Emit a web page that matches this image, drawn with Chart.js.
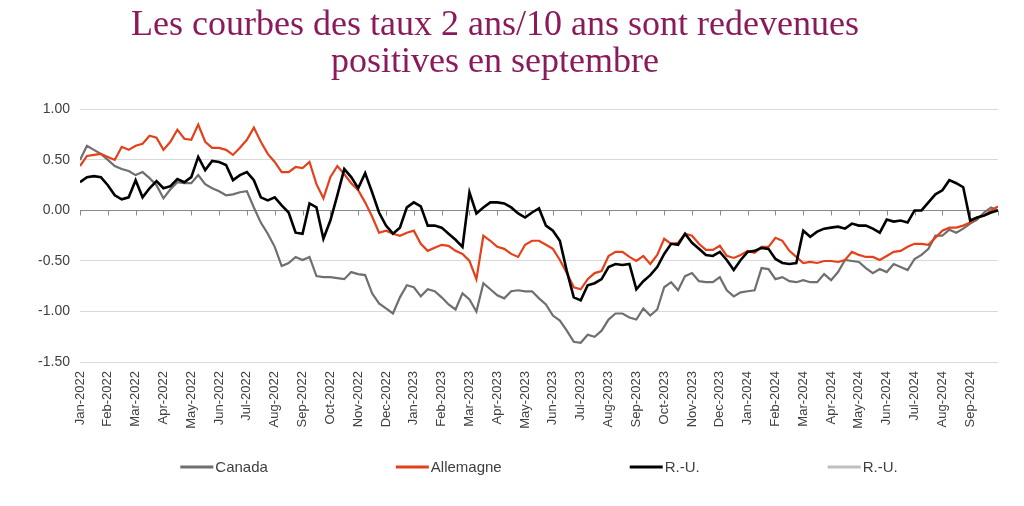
<!DOCTYPE html>
<html lang="fr">
<head>
<meta charset="utf-8">
<title>Les courbes des taux 2 ans/10 ans</title>
<script src="https://cdn.jsdelivr.net/npm/chart.js@4.4.1/dist/chart.umd.min.js"></script>
<style>
  html, body { margin: 0; padding: 0; background: #ffffff; }
  #wrap { position: relative; width: 1024px; height: 506px; }
</style>
</head>
<body>
<div id="wrap"><canvas id="chart"></canvas></div>
<script>
// ---- Data (spread 10 ans - 2 ans, in percentage points), 4 readings per month from Jan-2022 ----
const monthLabels = [
  'Jan-2022','Feb-2022','Mar-2022','Apr-2022','May-2022','Jun-2022','Jul-2022','Aug-2022','Sep-2022','Oct-2022','Nov-2022','Dec-2022',
  'Jan-2023','Feb-2023','Mar-2023','Apr-2023','May-2023','Jun-2023','Jul-2023','Aug-2023','Sep-2023','Oct-2023','Nov-2023','Dec-2023',
  'Jan-2024','Feb-2024','Mar-2024','Apr-2024','May-2024','Jun-2024','Jul-2024','Aug-2024','Sep-2024'
];
const readingsPerMonth = 4;
const yTicks = [1.0, 0.5, 0.0, -0.5, -1.0, -1.5];
const seriesLabels = ['Canada', 'Allemagne', 'R.-U.', 'R.-U.'];

const canada = [
  0.50, 0.64, 0.60, 0.56,   0.50, 0.44, 0.41, 0.39,   0.35, 0.38, 0.32, 0.25,   0.12, 0.21, 0.28, 0.27,
  0.27, 0.35, 0.26, 0.22,   0.19, 0.15, 0.16, 0.18,   0.19, 0.03, -0.12, -0.23, -0.36, -0.55, -0.52, -0.46,
  -0.49, -0.46, -0.65, -0.66, -0.66, -0.67, -0.68, -0.61, -0.63, -0.64, -0.82, -0.92, -0.97, -1.02, -0.86, -0.74,
  -0.76, -0.85, -0.78, -0.80, -0.86, -0.93, -0.98, -0.82, -0.88, -1.00, -0.72, -0.78, -0.84, -0.87, -0.80, -0.79,
  -0.80, -0.80, -0.87, -0.93, -1.04, -1.09, -1.19, -1.30, -1.31, -1.23, -1.25, -1.19, -1.08, -1.02, -1.02, -1.06,
  -1.08, -0.97, -1.04, -0.98, -0.76, -0.71, -0.79, -0.65, -0.62, -0.70, -0.71, -0.71, -0.66, -0.79, -0.85, -0.81,
  -0.80, -0.79, -0.57, -0.58, -0.68, -0.66, -0.70, -0.71, -0.69, -0.71, -0.71, -0.63, -0.69, -0.61, -0.49, -0.50,
  -0.51, -0.57, -0.62, -0.58, -0.61, -0.53, -0.56, -0.59, -0.48, -0.44, -0.38, -0.25, -0.25, -0.19, -0.22, -0.18,
  -0.13, -0.09, -0.02, 0.03,
  0.00
];

const allemagne = [
  0.44, 0.54, 0.55, 0.56,   0.53, 0.50, 0.63, 0.60,   0.64, 0.66, 0.74, 0.72,   0.60, 0.68, 0.80, 0.71,
  0.70, 0.85, 0.68, 0.62,   0.62, 0.60, 0.55, 0.62,   0.70, 0.82, 0.68, 0.56,   0.48, 0.38, 0.38, 0.43,
  0.42, 0.48, 0.26, 0.12,   0.33, 0.44, 0.36, 0.27,   0.20, 0.08, -0.06, -0.22, -0.20, -0.23, -0.25, -0.22,
  -0.20, -0.33, -0.40, -0.37, -0.34, -0.35, -0.40, -0.43, -0.50, -0.68, -0.25, -0.30, -0.36, -0.38, -0.43, -0.46,
  -0.34, -0.30, -0.30, -0.34, -0.38, -0.49, -0.62, -0.76, -0.78, -0.68, -0.62, -0.60, -0.45, -0.41, -0.41, -0.46,
  -0.50, -0.45, -0.53, -0.44, -0.28, -0.33, -0.32, -0.23, -0.25, -0.33, -0.39, -0.39, -0.35, -0.45, -0.47, -0.44,
  -0.40, -0.42, -0.36, -0.36, -0.27, -0.30, -0.40, -0.46, -0.52, -0.51, -0.52, -0.50, -0.50, -0.51, -0.49, -0.41,
  -0.44, -0.46, -0.46, -0.49, -0.45, -0.41, -0.40, -0.36, -0.33, -0.33, -0.34, -0.27, -0.20, -0.17, -0.17, -0.15,
  -0.12, -0.07, -0.05, 0.00,
  0.04
];

const royaumeUni = [
  0.28, 0.33, 0.34, 0.33,   0.25, 0.15, 0.11, 0.13,   0.30, 0.13, 0.22, 0.29,   0.22, 0.24, 0.31, 0.28,
  0.33, 0.53, 0.40, 0.49,   0.48, 0.45, 0.30, 0.35,   0.38, 0.30, 0.13, 0.10,   0.13, 0.05, -0.02, -0.22,
  -0.23, 0.07, 0.03, -0.28, -0.10, 0.15, 0.41, 0.33,  0.22, 0.37, 0.18, -0.02,  -0.15, -0.23, -0.17, 0.03,
  0.08, 0.04, -0.15, -0.15, -0.17, -0.23, -0.29, -0.36, 0.18, -0.03, 0.03, 0.08,  0.08, 0.07, 0.03, -0.03,
  -0.07, -0.02, 0.02, -0.15, -0.20, -0.30, -0.60, -0.86, -0.89, -0.74, -0.72, -0.68, -0.56, -0.53, -0.54, -0.53,
  -0.78, -0.70, -0.64, -0.56, -0.43, -0.33, -0.34, -0.23, -0.32, -0.38, -0.44, -0.45, -0.41, -0.49, -0.59, -0.49,
  -0.41, -0.40, -0.37, -0.38, -0.48, -0.52, -0.53, -0.52, -0.20, -0.26, -0.21, -0.18, -0.17, -0.16, -0.18, -0.13,
  -0.15, -0.15, -0.18, -0.22, -0.09, -0.11, -0.10, -0.12, 0.00, 0.00, 0.08, 0.16,  0.20, 0.30, 0.27, 0.23,
  -0.10, -0.07, -0.05, -0.02,
  0.00
];

const royaumeUni2 = [];

const seriesColors = ['#6f6f6f', '#e4411b', '#000000', '#bfbfbf'];

// ---- helpers ----
function toPoints(values) {
  return values.map((v, i) => ({ x: i / readingsPerMonth, y: v }));
}

const tickMarksOnZero = {
  id: 'tickMarksOnZero',
  beforeDatasetsDraw(chart, args, opts) {
    const { ctx, scales: { x, y } } = chart;
    const y0 = Math.round(y.getPixelForValue(0)) + 0.5;
    ctx.save();
    ctx.strokeStyle = opts.color;
    ctx.lineWidth = 1;
    ctx.beginPath();
    x.ticks.forEach(t => {
      const px = Math.round(x.getPixelForValue(t.value)) + 0.5;
      ctx.moveTo(px, y0);
      ctx.lineTo(px, y0 + opts.length);
    });
    ctx.stroke();
    ctx.restore();
  }
};

const lineLegend = {
  id: 'lineLegend',
  afterDraw(chart, args, opts) {
    const { ctx, chartArea } = chart;
    ctx.save();
    ctx.font = opts.font;
    const items = chart.data.datasets.map(ds => ({
      label: ds.label,
      color: ds.borderColor,
      w: opts.lineLength + opts.textGap + ctx.measureText(ds.label).width
    }));
    const total = items.reduce((s, it) => s + it.w, 0) + opts.itemGap * (items.length - 1);
    let x = (chartArea.left + chartArea.right) / 2 - total / 2;
    const y = opts.y;
    items.forEach(it => {
      ctx.strokeStyle = it.color;
      ctx.lineWidth = opts.lineWidth;
      ctx.beginPath();
      ctx.moveTo(x, y);
      ctx.lineTo(x + opts.lineLength, y);
      ctx.stroke();
      ctx.fillStyle = opts.color;
      ctx.textBaseline = 'middle';
      ctx.textAlign = 'left';
      ctx.fillText(it.label, x + opts.lineLength + opts.textGap, y + 1);
      x += it.w + opts.itemGap;
    });
    ctx.restore();
  }
};

const seriesValues = [canada, allemagne, royaumeUni, royaumeUni2];
const widths = [2.2, 2.2, 2.6, 2.2];
const orders = [3, 2, 1, 4];

new Chart(document.getElementById('chart'), {
  type: 'line',
  data: {
    datasets: seriesValues.map((vals, i) => ({
      label: seriesLabels[i],
      data: toPoints(vals),
      borderColor: seriesColors[i],
      backgroundColor: seriesColors[i],
      borderWidth: widths[i],
      pointRadius: 0,
      tension: 0,
      fill: false,
      order: orders[i]
    }))
  },
  options: {
    responsive: true,
    maintainAspectRatio: false,
    animation: false,
    layout: { padding: { left: -8, right: 26, top: 0, bottom: 0 } },
    plugins: {
      legend: { display: false },
      tooltip: { enabled: false },
      title: {
        display: true,
        text: ['Les courbes des taux 2 ans/10 ans sont redevenues', 'positives en septembre'],
        color: '#8b1a5b',
        font: { family: '"Liberation Serif", "Times New Roman", serif', size: 36, weight: 'normal', lineHeight: 1.02 },
        padding: { top: 7, bottom: 29 }
      },
      tickMarksOnZero: { color: '#8a8a8a', length: 5 },
      lineLegend: {
        font: '15px "Liberation Sans", Arial, sans-serif',
        color: '#404040',
        lineLength: 33,
        textGap: 2,
        itemGap: 128,
        lineWidth: 3,
        y: 467
      }
    },
    scales: {
      x: {
        type: 'linear',
        min: 0,
        max: monthLabels.length,
        afterFit: s => { s.height = 144; },
        border: { display: false },
        grid: { display: false, drawTicks: false },
        ticks: {
          stepSize: 1,
          autoSkip: false,
          maxRotation: 90,
          minRotation: 90,
          padding: 9,
          color: '#404040',
          font: { family: '"Liberation Sans", Arial, sans-serif', size: 13 },
          callback: v => (Number.isInteger(v) && monthLabels[v]) ? monthLabels[v] : ''
        }
      },
      y: {
        min: yTicks[yTicks.length - 1],
        max: yTicks[0],
        afterFit: s => { s.width = 88; },
        afterBuildTicks: s => { s.ticks = yTicks.map(v => ({ value: v })); },
        border: { display: false },
        grid: {
          drawTicks: false,
          lineWidth: 1,
          color: c => (c.tick && c.tick.value === 0) ? '#8a8a8a' : '#d9d9d9'
        },
        ticks: {
          padding: 10,
          color: '#404040',
          font: { family: '"Liberation Sans", Arial, sans-serif', size: 14 },
          callback: v => Number(v).toFixed(2)
        }
      }
    }
  },
  plugins: [tickMarksOnZero, lineLegend]
});
</script>
</body>
</html>
